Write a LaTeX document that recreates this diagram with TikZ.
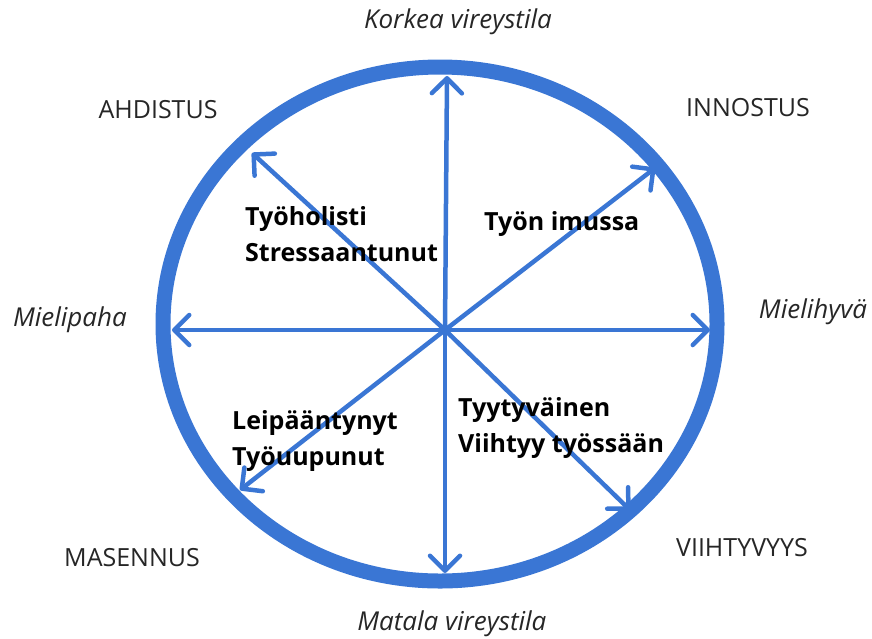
\documentclass[tikz,border=0pt]{standalone}
\usepackage{fontspec}
\setmainfont{Open Sans}
\usetikzlibrary{arrows.meta}
\definecolor{ringblue}{RGB}{58,118,212}

\begin{document}
\begin{tikzpicture}[
    x=1pt, y=-1pt,
    % ulkokehä
    ring/.style={draw=ringblue, line width=15pt},
    % nuolet keskeltä kehälle
    arr/.style={draw=ringblue, line width=4.5pt, line cap=round,
        -{Straight Barb[length=15pt, width=30pt, round]}},
    % tunnetilat kehän ulkopuolella
    mood/.style={font=\fontsize{25}{30}\selectfont, text=black!85},
    axis/.style={font=\fontsize{26}{30}\selectfont\itshape, text=black!85},
    % lohkojen tekstit
    quad/.style={font=\fontsize{25}{36}\selectfont\bfseries, align=left, anchor=west, inner sep=0pt}
]
\useasboundingbox (0,0) rectangle (872,638);

% 1. keskipiste ja kehä
\coordinate (c) at (445,330);
\draw [ring] (440,324) ellipse [x radius=277, y radius=257];

% 2. nuolten kärjet
\coordinate (n)  at (447,76);
\coordinate (s)  at (445,573);
\coordinate (w)  at (172,330);
\coordinate (e)  at (710,330);
\coordinate (ne) at (655,168);
\coordinate (nw) at (252,153);
\coordinate (se) at (630,510);
\coordinate (sw) at (240,490);

\foreach \t in {n,s,w,e,ne,nw,se,sw}
    \draw [arr] (c) -- (\t);

% 3. tekstit
\node [axis] (high) at (458,22)  {Korkea vireystila};
\node [axis] (low)  at (452,624) {Matala vireystila};
\node [axis] (bad)  at (70,320)  {Mielipaha};
\node [axis] (good) at (813,312) {Mielihyvä};

\node [mood] (anx) at (158,110) {AHDISTUS};
\node [mood] (ent) at (748,108) {INNOSTUS};
\node [mood] (dep) at (132,558) {MASENNUS};
\node [mood] (com) at (742,548) {VIIHTYVYYS};

\node [quad] (q1) at (245,234) {Työholisti\\Stressaantunut};
\node [quad] (q2) at (484,224) {Työn imussa};
\node [quad] (q3) at (232,441) {Leipääntynyt\\Työuupunut};
\node [quad] (q4) at (458,428) {Tyytyväinen\\Viihtyy työssään};

\end{tikzpicture}
\end{document}
